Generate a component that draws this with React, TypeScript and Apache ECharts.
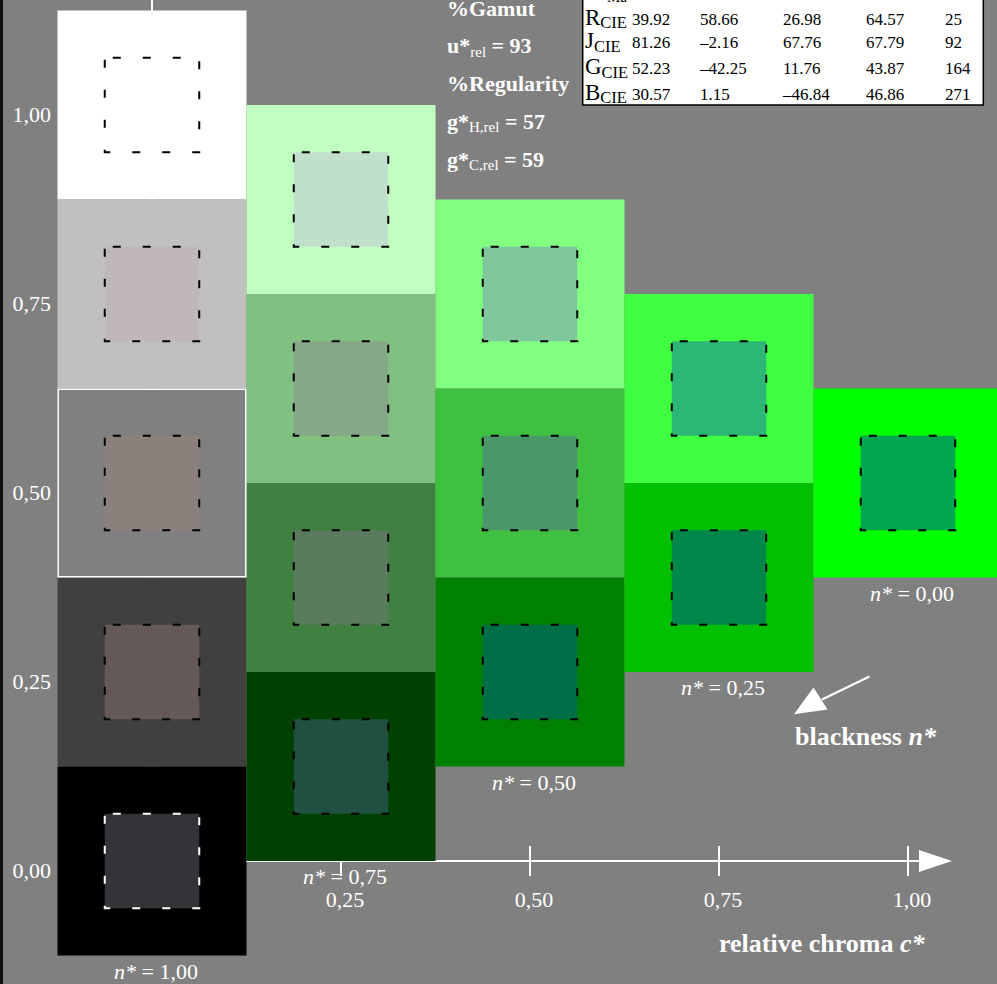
import React, { useEffect, useRef } from 'react';
import * as echarts from 'echarts';

const FONT_CSS = '"Liberation Serif", "Times New Roman", Times, serif';

// ---------- data ----------
// each cell: relative chroma c* (x) and relative level (y)
const cellChroma = [0, 0, 0, 0, 0, 0.25, 0.25, 0.25, 0.25, 0.5, 0.5, 0.5, 0.75, 0.75, 1.0];
const cellLevel = [1.0, 0.75, 0.5, 0.25, 0.0, 0.875, 0.625, 0.375, 0.125, 0.75, 0.5, 0.25, 0.625, 0.375, 0.5];
const outerColors = [
  '#ffffff', '#c0c0c0', '#808080', '#404040', '#000000',
  '#c0ffc0', '#80c080', '#408040', '#004000',
  '#80ff80', '#40c040', '#008000',
  '#40ff40', '#00c000',
  '#00ff00',
];
const innerColors = [
  '#ffffff', '#c0b8b8', '#8c807c', '#655957', '#333338',
  '#c0e0cb', '#87a887', '#5a7b5e', '#20503f',
  '#80c89c', '#4a976a', '#006f48',
  '#2db776', '#00884c',
  '#00a550',
];
const dashColors = [
  '#000000', '#000000', '#000000', '#000000', '#ffffff',
  '#000000', '#000000', '#000000', '#000000',
  '#000000', '#000000', '#000000',
  '#000000', '#000000',
  '#000000',
];
const highlightCells = [2];

// blackness labels under each column
const blackChroma = [0, 0.25, 0.5, 0.75, 1.0];
const blackLevel = [-0.125, 0, 0.125, 0.25, 0.375];
const blackText = ['1,00', '0,75', '0,50', '0,25', '0,00'];

const xTickValues = [0.25, 0.5, 0.75, 1.0];
const yTickValues = [0, 0.25, 0.5, 0.75, 1.0];

// table
const tableRowLetters = ['R', 'J', 'G', 'B'];
const tableColL = [39.92, 81.26, 52.23, 30.57];
const tableColA = [58.66, -2.16, -42.25, 1.15];
const tableColB = [26.98, 67.76, 11.76, -46.84];
const tableColC = [64.57, 67.79, 43.87, 46.86];
const tableColH = [25, 92, 164, 271];

const gamutU = 93;
const regularityH = 57;
const regularityC = 59;

// ---------- helpers ----------
let measureCtx: CanvasRenderingContext2D | null = null;
function textWidth(s: string, size: number, weight = 'normal', style = 'normal') {
  if (!measureCtx) measureCtx = document.createElement('canvas').getContext('2d');
  if (!measureCtx) return s.length * size * 0.5;
  measureCtx.font = `${style} ${weight} ${size}px ${FONT_CSS}`;
  return measureCtx.measureText(s).width;
}
function txt(x: number, baseline: number, s: string, size: number, weight = 'normal', style = 'normal', color = '#ffffff', align = 'left') {
  return {
    type: 'text',
    x,
    y: baseline - 0.3375 * size,
    z: 100,
    silent: true,
    style: {
      text: s,
      fill: color,
      fontFamily: FONT_CSS,
      fontSize: size,
      fontWeight: weight,
      fontStyle: style,
      align,
      verticalAlign: 'middle',
    },
  };
}
const fmtNum = (v: number, dec = 2) => (v < 0 ? '\u2013' : '') + Math.abs(v).toFixed(dec);
const fmtAxis = (v: number) => v.toFixed(2).replace('.', ',');

function buildGraphics() {
  const els: any[] = [];
  // left frame strip
  els.push({ type: 'rect', z: 100, silent: true, shape: { x: 0, y: 0, width: 3, height: 984 }, style: { fill: '#111111' } });

  // top-middle bold texts
  const x0 = 447;
  const bl = [15.5, 53.3, 91.1, 128.9, 166.7];
  els.push(txt(x0, bl[0], '%Gamut', 22, 'bold'));
  const subLine = (baseline: number, main: string, sub: string, tail: string) => {
    const w1 = textWidth(main, 22, 'bold');
    const w2 = textWidth(sub, 15, 'normal');
    els.push(txt(x0, baseline, main, 22, 'bold'));
    els.push(txt(x0 + w1, baseline + 3.5, sub, 15, 'normal'));
    els.push(txt(x0 + w1 + w2, baseline, tail, 22, 'bold'));
  };
  subLine(bl[1], 'u*', 'rel', ` = ${gamutU}`);
  els.push(txt(x0, bl[2], '%Regularity', 22, 'bold'));
  subLine(bl[3], 'g*', 'H,rel', ` = ${regularityH}`);
  subLine(bl[4], 'g*', 'C,rel', ` = ${regularityC}`);

  // table
  els.push({ type: 'rect', z: 99, silent: true, shape: { x: 582.7, y: -4, width: 400.6, height: 109 }, style: { fill: '#ffffff', stroke: '#000000', lineWidth: 1.5 } });
  els.push(txt(607, 2.5, 'Ma', 15, 'normal', 'normal', '#000000'));
  const rowBase = [25, 48.5, 74.5, 100];
  const colX = [632, 700, 783, 866, 945];
  tableRowLetters.forEach((L, r) => {
    const b = rowBase[r];
    els.push(txt(585, b, L, 23, 'normal', 'normal', '#000000'));
    els.push(txt(585 + textWidth(L, 23), b + 3.3, 'CIE', 16.5, 'normal', 'normal', '#000000'));
    const vals = [fmtNum(tableColL[r]), fmtNum(tableColA[r]), fmtNum(tableColB[r]), fmtNum(tableColC[r]), String(tableColH[r])];
    vals.forEach((v, k) => els.push(txt(colX[k], b, v, 17, 'normal', 'normal', '#000000')));
  });

  // blackness arrow
  els.push({ type: 'line', z: 100, silent: true, shape: { x1: 869.5, y1: 676.5, x2: 822, y2: 699.5 }, style: { stroke: '#ffffff', lineWidth: 2 } });
  els.push({ type: 'polygon', z: 100, silent: true, shape: { points: [[794, 714.3], [813.5, 687.5], [827.5, 709.5]] }, style: { fill: '#ffffff' } });
  const wb = textWidth('blackness ', 26, 'bold');
  els.push(txt(795, 745, 'blackness ', 26, 'bold'));
  els.push(txt(795 + wb, 745, 'n*', 26, 'bold', 'italic'));
  const wr = textWidth('relative chroma ', 26, 'bold');
  els.push(txt(719, 952.5, 'relative chroma ', 26, 'bold'));
  els.push(txt(719 + wr, 952.5, 'c*', 26, 'bold', 'italic'));
  return els;
}

const XMAX = (935.5 - 152) / 756;
const YMIN = 0;
const YMAX = 1.138;

export default function App() {
  const ref = useRef<HTMLDivElement>(null);
  useEffect(() => {
    if (!ref.current) return;
    const chart = echarts.init(ref.current, null, { renderer: 'svg' });
    const white = '#ffffff';
    const option: any = {
      animation: false,
      backgroundColor: '#808080',
      grid: { left: 152, right: 997 - 935.5, top: 861 - 756 * YMAX, bottom: 984 - (861 - 756 * YMIN), containLabel: false, outerBoundsMode: 'none' },
      xAxis: [
        {
          type: 'value', min: 0, max: XMAX, position: 'bottom',
          axisLine: { show: true, onZero: false, symbol: ['none', 'triangle'], symbolSize: [22, 33], lineStyle: { color: white, width: 2 } },
          axisTick: { show: true, customValues: xTickValues, length: 15, lineStyle: { color: white, width: 2 } },
          axisLabel: { show: true, customValues: xTickValues, margin: 27, color: white, fontSize: 22, fontFamily: FONT_CSS, formatter: fmtAxis, padding: [0, 0, 0, 8] },
          splitLine: { show: false },
        },
        {
          type: 'value', min: 0, max: XMAX, position: 'bottom',
          axisLine: { show: false, onZero: false },
          axisTick: { show: true, inside: true, customValues: xTickValues, length: 15, lineStyle: { color: white, width: 2 } },
          axisLabel: { show: false },
          splitLine: { show: false },
        },
      ],
      yAxis: {
        type: 'value', min: YMIN, max: YMAX, position: 'left',
        axisLine: { show: true, onZero: false, lineStyle: { color: white, width: 2 } },
        axisTick: { show: false },
        axisLabel: { show: true, customValues: yTickValues, margin: 101, color: white, fontSize: 22, lineHeight: 18, verticalAlign: 'top', fontFamily: FONT_CSS, formatter: fmtAxis },
        splitLine: { show: false },
      },
      graphic: { elements: buildGraphics() },
      series: [
        {
          type: 'custom',
          clip: false,
          xAxisIndex: 0,
          yAxisIndex: 0,
          data: cellChroma.map((c, i) => [c, cellLevel[i]]),
          encode: { x: 0, y: 1 },
          renderItem: (params: any, api: any) => {
            const i = params.dataIndex;
            const p = api.coord([api.value(0), api.value(1)]);
            const sz = api.size([0.25, 0.25]);
            const w = sz[0];
            const h = sz[1];
            const children: any[] = [
              { type: 'rect', shape: { x: p[0] - w / 2, y: p[1] - h / 2, width: w, height: h }, style: { fill: outerColors[i] } },
              {
                type: 'rect',
                shape: { x: p[0] - w / 4, y: p[1] - h / 4, width: w / 2, height: h / 2 },
                style: { fill: innerColors[i], stroke: dashColors[i], lineWidth: 2, lineDash: [8, 22], lineDashOffset: -7.7 },
              },
            ];
            if (highlightCells.indexOf(i) >= 0) {
              children.push({
                type: 'rect', z2: 10,
                shape: { x: p[0] - w / 2 + 0.75, y: p[1] - h / 2 + 0.75, width: w - 1.5, height: h - 1.5 },
                style: { fill: 'none', stroke: white, lineWidth: 1.5 },
              });
            }
            return { type: 'group', children };
          },
        },
        {
          type: 'custom',
          clip: false,
          z: 5,
          xAxisIndex: 0,
          yAxisIndex: 0,
          data: blackChroma.map((c, i) => [c, blackLevel[i]]),
          encode: { x: 0, y: 1 },
          renderItem: (params: any, api: any) => {
            const i = params.dataIndex;
            const p = api.coord([api.value(0), api.value(1)]);
            return {
              type: 'text',
              x: p[0] + 4,
              y: p[1] + 15.5,
              style: {
                text: `{i|n*} = ${blackText[i]}`,
                rich: { i: { fontStyle: 'italic', fontSize: 22, fontFamily: FONT_CSS, fill: white } },
                fill: white,
                fontSize: 22,
                fontFamily: FONT_CSS,
                align: 'center',
                verticalAlign: 'middle',
              },
            };
          },
        },
      ],
    };
    chart.setOption(option);
    return () => chart.dispose();
  }, []);
  return <div ref={ref} style={{ position: 'absolute', left: 0, top: 0, width: 997, height: 984 }} />;
}
